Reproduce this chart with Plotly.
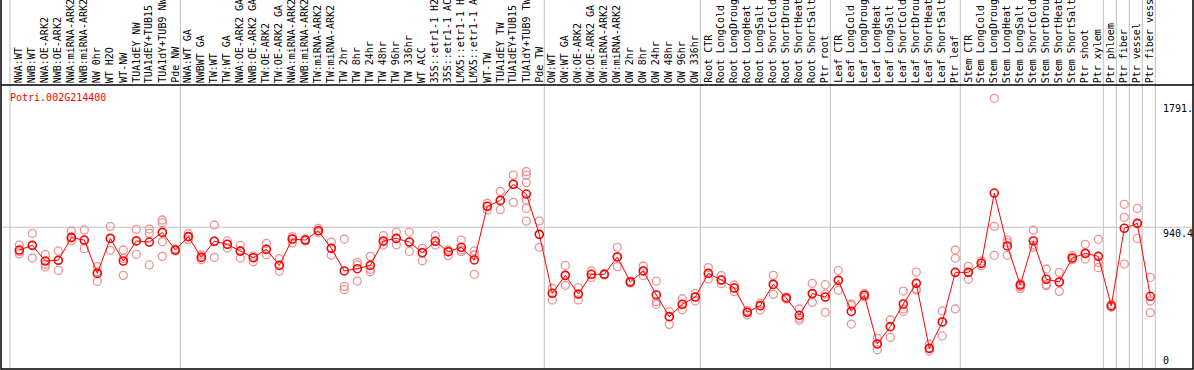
import plotly.graph_objects as go

gene_id = "Potri.002G214400"

categories = [
    "NWA:WT", "NWB:WT", "NWA:OE-ARK2", "NWB:OE-ARK2", "NWA:miRNA-ARK2", "NWB:miRNA-ARK2",
    "NW 0hr", "WT H2O", "WT-NW", "TUA1dEY NW", "TUA1dEY+TUB15", "TUA1dY+TUB9 NW", "Pde NW",
    "NWA:WT GA", "NWBWT GA", "TW:WT", "TW:WT GA", "NWA:OE-ARK2 GA", "NWB:OE-ARK2 GA",
    "TW:OE-ARK2", "TW:OE-ARK2 GA", "NWA:miRNA-ARK2", "NWB:miRNA-ARK2", "TW:miRNA-ARK2",
    "TW:miRNA-ARK2", "TW 2hr", "TW 8hr", "TW 24hr", "TW 48hr", "TW 96hr", "TW 336hr",
    "WT ACC", "35S::etr1-1 H2", "35S::etr1-1 AC", "LMX5::etr1-1 H", "LMX5::etr1-1 A",
    "WT-TW", "TUA1dEY TW", "TUA1dEY+TUB15", "TUA1dY+TUB9 TW", "Pde TW",
    "OW:WT", "OW:WT GA", "OW:OE-ARK2", "OW:OE-ARK2 GA", "OW:miRNA-ARK2", "OW:miRNA-ARK2",
    "OW 2hr", "OW 8hr", "OW 24hr", "OW 48hr", "OW 96hr", "OW 336hr",
    "Root CTR", "Root LongCold", "Root LongDroug", "Root LongHeat", "Root LongSalt",
    "Root ShortCold", "Root ShortDrou", "Root ShortHeat", "Root ShortSalt", "Ptr root",
    "Leaf CTR", "Leaf LongCold", "Leaf LongDroug", "Leaf LongHeat", "Leaf LongSalt",
    "Leaf ShortCold", "Leaf ShortDrou", "Leaf ShortHeat", "Leaf ShortSalt", "Ptr leaf",
    "Stem CTR", "Stem LongCold", "Stem LongDroug", "Stem LongHeat", "Stem LongSalt",
    "Stem ShortCold", "Stem ShortDrou", "Stem ShortHeat", "Stem ShortSalt", "Ptr shoot",
    "Ptr xylem", "Ptr phloem", "Ptr fiber", "Ptr vessel", "Ptr fiber vess",
]

means = [
    789, 820, 716, 721, 871, 855, 634, 866, 716, 849, 842, 906, 789,
    878, 740, 847, 827, 782, 738, 794, 687, 862, 855, 917, 800, 650, 665, 687,
    849, 866, 842, 771, 847, 778, 807, 723, 1079, 1118, 1225, 1160, 893,
    502, 621, 497, 628, 628, 743, 577, 650, 491, 347, 429, 477,
    634, 590, 537, 376, 420, 561, 471, 356, 500, 477,
    588, 382, 489, 166, 281, 431, 568, 137, 312, 641,
    641, 701, 1167, 816, 557, 849, 595, 577, 736, 767, 747,
    418, 933, 966, 482,
]

replicates = [
    [822, 778, 763], [900, 820, 736], [760, 694, 676], [783, 721, 654],
    [915, 878, 851], [922, 853, 798], [679, 645, 581], [946, 866, 787],
    [789, 734, 621], [926, 849, 760], [928, 900, 690], [988, 970, 906, 844, 747],
    [796, 782],
    [897, 878, 858], [756, 740, 725], [955, 847, 740], [849, 827, 802],
    [820, 782, 736], [749, 738, 712], [833, 794, 758], [732, 687, 648],
    [878, 862, 836], [862, 855, 849], [933, 917, 906], [842, 800, 754],
    [862, 548, 526], [707, 690, 583], [747, 661, 645], [884, 844, 822],
    [908, 866, 824], [908, 842, 780], [800, 771, 718], [884, 847, 822],
    [789, 778, 752], [855, 789, 778], [783, 756, 628], [1099, 1079, 1054],
    [1178, 1118, 1057], [1286, 1225, 1105], [1309, 1286, 1236, 1121, 1065, 981],
    [981, 893, 807],
    [535, 502, 458], [687, 621, 555], [539, 497, 458], [652, 628, 606],
    [632, 628, 623], [807, 743, 679], [583, 577, 570], [683, 650, 619],
    [583, 446, 429], [380, 347, 296], [466, 429, 393], [502, 477, 451],
    [672, 634, 597], [619, 590, 566], [557, 537, 513], [387, 376, 358],
    [435, 420, 391], [621, 561, 495], [477, 471, 464], [398, 336, 323],
    [568, 500, 442], [559, 497, 376],
    [654, 588, 522], [431, 422, 298], [500, 489, 477], [203, 166, 128],
    [325, 281, 210], [517, 398, 382], [643, 531, 524], [164, 137, 119],
    [385, 312, 219], [789, 734, 398],
    [681, 641, 595], [716, 701, 685], [1795, 946, 754], [855, 838, 754],
    [566, 546, 533], [920, 822, 807], [663, 561, 553], [641, 577, 515],
    [752, 736, 725], [827, 767, 729], [860, 707, 672],
    [429, 418, 409], [1092, 1006, 696], [1065, 966, 866], [608, 451, 374],
]

group_ends = [12, 40, 52, 62, 72, 83, 84, 85, 86, 87]
y_tick_values = [1791.8, 940.4, 0]
y_tick_labels = ["1791.", "940.4", "0"]

# ---------------- layout geometry ----------------
W, H = 1194, 370
ML, MR, MT, MB = 1, 1, 85, 1
X_RANGE = [-1.408, 90.285]
Y_RANGE = [0, 1883.3]
FONT = "DejaVu Sans Mono, Liberation Mono, monospace"

plot_w = W - ML - MR
plot_h = H - MT - MB


def xpaper(v):
    return (v - X_RANGE[0]) / (X_RANGE[1] - X_RANGE[0])


def ypix_to_paper(py):
    return (H - MB - py) / plot_h


xs = list(range(len(categories)))
rep_x, rep_y = [], []
for i, reps in enumerate(replicates):
    for r in reps:
        rep_x.append(i)
        rep_y.append(r)

fig = go.Figure()
fig.add_trace(go.Scatter(
    x=rep_x, y=rep_y, mode="markers",
    marker=dict(symbol="circle-open", size=8, color="rgb(238,146,146)",
                line=dict(width=1.3, color="rgb(238,146,146)")),
    hoverinfo="skip", showlegend=False,
))
fig.add_trace(go.Scatter(
    x=xs, y=means, mode="lines+markers",
    line=dict(color="red", width=1),
    marker=dict(symbol="circle-open", size=8, color="red",
                line=dict(width=1.6, color="red")),
    showlegend=False,
))

shapes = []
top_paper = ypix_to_paper(0)
sep_positions = [-0.715] + [g + 0.385 for g in group_ends]
for s in sep_positions:
    px = xpaper(s)
    shapes.append(dict(type="line", xref="paper", yref="paper", x0=px, x1=px,
                       y0=0, y1=top_paper, line=dict(color="#c0c0c0", width=1), layer="below"))
shapes.append(dict(type="line", xref="paper", yref="y", x0=0, x1=1,
                   y0=y_tick_values[1], y1=y_tick_values[1],
                   line=dict(color="#c0c0c0", width=1), layer="below"))
shapes.append(dict(type="rect", xref="paper", yref="paper", x0=0, x1=1, y0=0, y1=1,
                   line=dict(color="black", width=1.5)))
for px in (0, 1):
    shapes.append(dict(type="line", xref="paper", yref="paper", x0=px, x1=px,
                       y0=1, y1=top_paper, line=dict(color="black", width=1.5)))

annotations = []
label_y = ypix_to_paper(84)
for i, name in enumerate(categories):
    annotations.append(dict(
        x=i, xref="x", y=label_y, yref="paper", text=name, textangle=-90,
        showarrow=False, xanchor="center", yanchor="bottom", borderpad=0,
        font=dict(family=FONT, size=10, color="black"),
    ))

annotations.append(dict(
    x=(9 - ML) / plot_w, xref="paper", y=ypix_to_paper(97), yref="paper",
    text=gene_id, showarrow=False, xanchor="left", yanchor="middle", borderpad=0,
    font=dict(family=FONT, size=10, color="red"),
))

lab_x = (1162 - ML) / plot_w
annotations.append(dict(x=lab_x, xref="paper", y=y_tick_values[0], yref="y",
                        text=y_tick_labels[0], showarrow=False, xanchor="left",
                        yanchor="top", yshift=-3, borderpad=0,
                        font=dict(family=FONT, size=10, color="black")))
annotations.append(dict(x=lab_x, xref="paper", y=y_tick_values[1], yref="y",
                        text=y_tick_labels[1], showarrow=False, xanchor="left",
                        yanchor="top", borderpad=0,
                        font=dict(family=FONT, size=10, color="black")))
annotations.append(dict(x=lab_x, xref="paper", y=y_tick_values[2], yref="y",
                        text=y_tick_labels[2], showarrow=False, xanchor="left",
                        yanchor="bottom", yshift=2, borderpad=0,
                        font=dict(family=FONT, size=10, color="black")))

fig.update_layout(
    width=W, height=H,
    margin=dict(l=ML, r=MR, t=MT, b=MB, pad=0),
    paper_bgcolor="white", plot_bgcolor="white",
    xaxis=dict(range=X_RANGE, visible=False, fixedrange=True),
    yaxis=dict(range=Y_RANGE, visible=False, fixedrange=True),
    shapes=shapes, annotations=annotations,
    showlegend=False,
)

fig.write_html(
    "out.html",
    config={"displayModeBar": False},
    post_script="document.body.style.margin='0';document.body.style.overflow='hidden';",
)
